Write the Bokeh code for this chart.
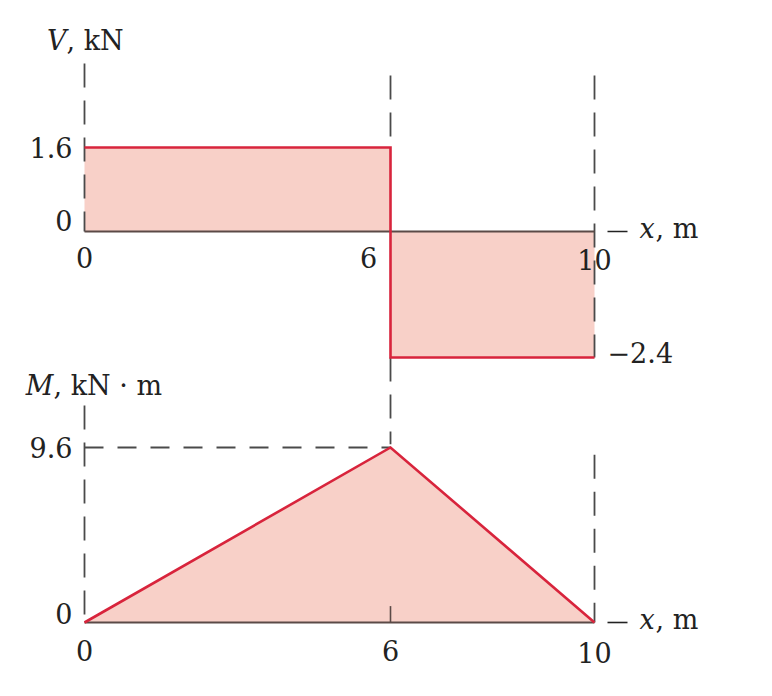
from bokeh.plotting import figure
from bokeh.models import Range1d
from bokeh.core.properties import value
from bokeh.embed import file_html
from bokeh.resources import INLINE

# ---- data ----
x_pos = [0, 6, 10]
x_labels = ["0", "6", "10"]
shear_seg = [1.6, -2.4]                  # shear on [0,6] and [6,10], kN
shear_x = [0, 6, 6, 10]
shear_v = [1.6, 1.6, -2.4, -2.4]
moment_x = [0, 6, 10]
moment_m = [0.0, 9.6, 0.0]               # kN·m
v_label_vals = [1.6, 0.0, -2.4]
v_label_txt = ["1.6", "0", "\u22122.4"]
m_label_vals = [9.6, 0.0]
m_label_txt = ["9.6", "0"]

# guide extents (dashed lines)
v_guide_top = [3.2, 2.97, 2.97]          # tops of dashed verticals in V panel at x=0,6,10
m_guide_top = [11.9, 9.2]                # tops of dashed verticals in M panel at x=0,10

FILL = "#f8d0c8"
RED = "#d8243c"
AXC = "#5b4a47"
DASHC = "#4a4a4a"
TXT = "#222222"
FONT = value("DejaVu Serif")
FS = "27px"

W, H = 756, 680
PX = 51.0      # px per metre
PV = 52.5      # px per kN
PM = 18.23     # px per kN·m
X0, V0, M0 = 84, 231, 622
p = figure(width=W, height=H, output_backend="svg", toolbar_location=None,
           x_range=Range1d(-X0 / PX, (W - X0) / PX),
           y_range=Range1d((V0 - H) / PV, V0 / PV),
           x_axis_type=None, y_axis_type=None, min_border=0,
           outline_line_color=None)
p.extra_y_ranges = {"M": Range1d((M0 - H) / PM, M0 / PM)}
p.grid.visible = False
p.background_fill_color = "white"

# ---- fills ----
p.quad(left=x_pos[:-1], right=x_pos[1:],
       top=[max(v, 0) for v in shear_seg], bottom=[min(v, 0) for v in shear_seg],
       fill_color=FILL, line_color=None)
p.patch(moment_x, moment_m, fill_color=FILL, line_color=None, y_range_name="M")

# ---- dashed guides ----
DASH = "24 13"
LW = 1.8
p.segment(x0=x_pos, y0=v_guide_top, x1=x_pos, y1=[0, shear_seg[0], shear_seg[1]],
          line_color=DASHC, line_width=LW, line_dash=DASH)
p.segment(x0=[x_pos[1]], y0=[shear_seg[1]], x1=[x_pos[1]], y1=[-4.05],
          line_color=DASHC, line_width=LW, line_dash=DASH)
p.segment(x0=[x_pos[0], x_pos[2]], y0=m_guide_top, x1=[x_pos[0], x_pos[2]], y1=[0, 0],
          line_color=DASHC, line_width=LW, line_dash=DASH, y_range_name="M")
p.segment(x0=[x_pos[0]], y0=[moment_m[1]], x1=[x_pos[1]], y1=[moment_m[1]],
          line_color=DASHC, line_width=LW, line_dash="19 14", y_range_name="M")

# ---- axis lines ----
p.segment(x0=[x_pos[0]], y0=[0], x1=[x_pos[-1]], y1=[0], line_color=AXC, line_width=2)
p.segment(x0=[x_pos[0]], y0=[0], x1=[x_pos[-1]], y1=[0], line_color=AXC, line_width=2,
          y_range_name="M")
p.segment(x0=[x_pos[1]], y0=[0], x1=[x_pos[1]], y1=[0.9], line_color=AXC, line_width=1.6,
          y_range_name="M")
# short dashes in front of the "x, m" labels
dx0, dx1 = x_pos[-1] + 13 / PX, x_pos[-1] + 33 / PX
p.segment(x0=[dx0], y0=[0], x1=[dx1], y1=[0], line_color=TXT, line_width=1.6)
p.segment(x0=[dx0], y0=[0], x1=[dx1], y1=[0], line_color=TXT, line_width=1.6,
          y_range_name="M")

# ---- curves ----
p.line(shear_x, shear_v, line_color=RED, line_width=2.6, line_join="miter")
p.line(moment_x, moment_m, line_color=RED, line_width=2.6, line_join="miter",
       y_range_name="M")


def txt(x, y, s, align="center", xo=0, yo=0, italic=False, rng="default", size=FS):
    kw = {}
    if rng != "default":
        kw["y_range_name"] = rng
    p.text(x=[x], y=[y], text=[s], text_align=align, text_baseline="middle",
           x_offset=xo, y_offset=yo, text_font=FONT, text_font_size=size,
           text_font_style="italic" if italic else "normal", text_color=TXT, **kw)


# V panel labels
txt(0, 3.64, "V", "right", xo=-18, italic=True)
txt(0, 3.64, ", kN", "left", xo=-18)
txt(0, v_label_vals[0], v_label_txt[0], "right", xo=-12)
txt(0, v_label_vals[1], v_label_txt[1], "right", xo=-12, yo=-11)
txt(x_pos[-1], v_label_vals[2], v_label_txt[2], "left", xo=13, yo=-5)
txt(x_pos[0], 0, x_labels[0], "center", yo=26)
txt(x_pos[1], 0, x_labels[1], "center", xo=-22, yo=26)
txt(x_pos[2], 0, x_labels[2], "center", yo=28)
txt(x_pos[2], 0, "x", "left", xo=45, yo=-3, italic=True)
txt(x_pos[2], 0, ", m", "left", xo=61, yo=-3)

# M panel labels
txt(0, 13.0, "M", "right", xo=-31, italic=True, rng="M")
txt(0, 13.0, ", kN \u00b7 m", "left", xo=-31, rng="M")
txt(0, m_label_vals[0], m_label_txt[0], "right", xo=-12, rng="M")
txt(0, m_label_vals[1], m_label_txt[1], "right", xo=-12, yo=-9, rng="M")
txt(x_pos[0], 0, x_labels[0], "center", yo=28, rng="M")
txt(x_pos[1], 0, x_labels[1], "center", yo=28, rng="M")
txt(x_pos[2], 0, x_labels[2], "center", yo=30, rng="M")
txt(x_pos[2], 0, "x", "left", xo=45, yo=-3, italic=True, rng="M")
txt(x_pos[2], 0, ", m", "left", xo=61, yo=-3, rng="M")

open("out.html", "w").write(file_html(p, INLINE))
